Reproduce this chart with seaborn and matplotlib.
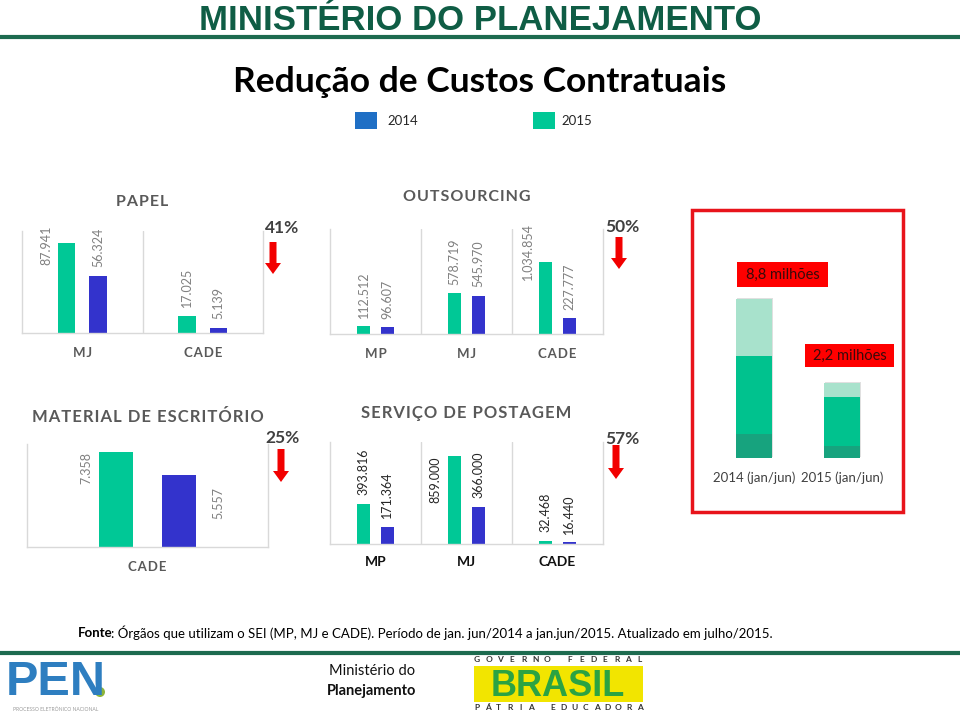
import numpy as np
import pandas as pd
import matplotlib
matplotlib.use("Agg")
import matplotlib.pyplot as plt
import seaborn as sns
from matplotlib.patches import Rectangle, FancyArrow, Circle
from matplotlib import patheffects as pe

# ---------------- data ----------------
legend_labels = ["2014", "2015"]

papel_cats = ["MJ", "CADE"]
papel_verde = [87941, 17025]
papel_azul = [56324, 5139]

outs_cats = ["MP", "MJ", "CADE"]
outs_verde = [112512, 578719, 1034854]
outs_azul = [96607, 545970, 227777]

mat_cats = ["CADE"]
mat_verde = [7358]
mat_azul = [5557]

post_cats = ["MP", "MJ", "CADE"]
post_verde = [393816, 859000, 32468]
post_azul = [171364, 366000, 16440]

reducoes = ["41%", "50%", "25%", "57%"]

periodos = ["2014 (jan/jun)", "2015 (jan/jun)"]
totais = ["8,8 milhões", "2,2 milhões"]
seg_base = [24, 12]
seg_meio = [78, 49]
seg_topo = [57, 14]

# ---------------- style ----------------
TEAL = "#00C896"
BLUE = "#3333CC"
LEG_BLUE = "#1F6FC5"
GRID = "#D9D9D9"
W, H = 960, 712

sns.set_theme(style="white")
plt.rcParams["font.family"] = ["Lato", "DejaVu Sans"]

fig = plt.figure(figsize=(W / 100, H / 100), dpi=100)
bg = fig.add_axes([0, 0, 1, 1])
bg.set_xlim(0, W)
bg.set_ylim(H, 0)
bg.axis("off")


def px_ax(x0, y0, x1, y1):
    ax = fig.add_axes([x0 / W, 1 - y1 / H, (x1 - x0) / W, (y1 - y0) / H])
    ax.set_facecolor("none")
    return ax


def spaced(s):
    return "\u200a".join(s)


def fmt(v):
    return f"{v:,}".replace(",", ".")


def painel(rect, cats, verde, azul, ylim, titulo, title_pad, title_size,
           cat_spaced, cat_color, cat_size, lbl_color, left_mode, tick_pad,
           sides=None):
    ax = px_ax(*rect)
    n = len(cats)
    df = pd.DataFrame({"cat": cats * 2,
                       "valor": list(verde) + list(azul),
                       "serie": ["verde"] * n + ["azul"] * n})
    sns.barplot(data=df, x="cat", y="valor", hue="serie", order=cats,
                hue_order=["verde", "azul"], palette=[TEAL, BLUE],
                width=0.52, gap=0.45, errorbar=None, legend=False,
                saturation=1, linewidth=0, ax=ax)
    ax.set_xlim(-0.5, n - 0.5)
    ax.set_ylim(0, ylim)
    ax.set_yticks([])
    ax.set_xlabel("")
    ax.set_ylabel("")
    ax.spines["top"].set_visible(False)
    for s in ["left", "right", "bottom"]:
        ax.spines[s].set_color(GRID)
        ax.spines[s].set_linewidth(1)
    if n > 1:
        ax.set_xticks(np.arange(0.5, n - 0.5), minor=True)
        ax.grid(axis="x", which="minor", color=GRID, lw=1)
    ax.grid(axis="y", visible=False)
    ax.grid(axis="x", which="major", visible=False)
    ax.set_xticks(range(n))
    labs = [spaced(c) for c in cats] if cat_spaced else cats
    ax.set_xticklabels(labs, fontweight="bold", color=cat_color,
                       fontsize=cat_size)
    ax.tick_params(axis="x", which="both", length=0, pad=tick_pad)
    ax.set_title(spaced(titulo), pad=title_pad, fontsize=title_size,
                 fontweight="bold", color="#595959")
    vals = [verde, azul]
    for i, cont in enumerate(ax.containers):
        for j, bar in enumerate(cont):
            v = vals[i][j]
            x, w, h = bar.get_x(), bar.get_width(), bar.get_height()
            if sides is not None:
                side = sides[i]
            else:
                side = "left" if v / ylim > 0.6 else "top"
            kw = dict(rotation=90, fontsize=9, color=lbl_color,
                      textcoords="offset points", annotation_clip=False)
            if side == "top":
                ax.annotate(fmt(v), (x + w / 2, h), xytext=(0, 6),
                            ha="center", va="bottom", **kw)
            elif side == "left":
                if left_mode == "axes":
                    ax.annotate(fmt(v), (x, ylim), xytext=(-4, 4),
                                ha="right", va="top", **kw)
                else:
                    ax.annotate(fmt(v), (x, h), xytext=(-5, 0),
                                ha="right", va="top", **kw)
            else:
                ax.annotate(fmt(v), (x + w, h), xytext=(12, -8),
                            ha="left", va="top", **kw)
    return ax


painel((22, 231, 263, 333), papel_cats, papel_verde, papel_azul, 100000,
       "PAPEL", 18, 11.5, True, "#595959", 9.5, "#808080", "axes", 10)
painel((330, 229, 603, 334), outs_cats, outs_verde, outs_azul, 1500000,
       "OUTSOURCING", 20, 11.5, True, "#595959", 9.5, "#808080", "axes", 10)
painel((27, 444, 268, 547), mat_cats, mat_verde, mat_azul, 8000,
       "MATERIAL DE ESCRITÓRIO", 16, 12, True, "#595959", 9.5, "#808080",
       "bar", 10, sides=["left", "right"])
painel((330, 442, 603, 544), post_cats, post_verde, post_azul, 1000000,
       "SERVIÇO DE POSTAGEM", 17, 12, False, "#111111", 10, "#262626",
       "bar", 8.5)

# ---------------- stacked totals chart ----------------
bg.add_patch(Rectangle((692, 210), 211, 302, fill=False, ec="#E8141B", lw=2.5))
ax5 = px_ax(710, 290, 886, 458)
c1 = np.array(seg_base)
c2 = c1 + np.array(seg_meio)
c3 = c2 + np.array(seg_topo)
sns.barplot(x=periodos, y=c3, color="#A8E2CC", width=0.41, saturation=1,
            linewidth=0, ax=ax5)
for p in ax5.patches:
    p.set_path_effects([pe.SimplePatchShadow(offset=(1, 1), alpha=0.18,
                                             shadow_rgbFace="#555555"),
                        pe.Normal()])
sns.barplot(x=periodos, y=c2, color="#00C28E", width=0.41, saturation=1,
            linewidth=0, ax=ax5)
sns.barplot(x=periodos, y=c1, color="#17A37E", width=0.41, saturation=1,
            linewidth=0, ax=ax5)
ax5.set_xlim(-0.5, 1.5)
ax5.set_ylim(0, 168)
ax5.set_yticks([])
ax5.set_ylabel("")
for s in ax5.spines.values():
    s.set_visible(False)
ax5.tick_params(axis="x", length=0, pad=10, labelsize=9.5, labelcolor="#404040")

for (x0, y0, w, h), t in zip([(737, 262, 91, 25), (805, 344, 89, 23)], totais):
    bg.add_patch(Rectangle((x0, y0), w, h, color="#FF0000", lw=0))
    bg.text(x0 + w / 2, y0 + h / 2, t, ha="center", va="center",
            fontsize=10.5, color="#3A0A0A")

# ---------------- arrows + percents ----------------
arrows = [(273, 242, 32), (619, 237, 32), (281, 449, 33), (616, 445, 34)]
pct_pos = [(282, 228), (622, 227), (283, 438), (622, 439)]
for (ax_, ay, L), (px, py), t in zip(arrows, pct_pos, reducoes):
    bg.add_patch(FancyArrow(ax_, ay, 0, L, width=7, head_width=16,
                            head_length=11, length_includes_head=True,
                            color="#F20000", lw=0))
    bg.text(px, py, t, ha="center", va="center", fontsize=12.5,
            fontweight="bold", color="#404040")

# ---------------- header ----------------
bg.text(480, 30, "MINISTÉRIO DO PLANEJAMENTO", ha="center", va="baseline",
        fontsize=25, fontweight="bold", color="#0F5D45",
        family=["Liberation Sans", "DejaVu Sans"])
bg.plot([0, 960], [37, 37], color="#1D6B4F", lw=3, solid_capstyle="butt")
bg.text(480, 92, "Redução de Custos Contratuais", ha="center", va="baseline",
        fontsize=25.5, fontweight="bold", color="#000000")

leg_cols = [LEG_BLUE, TEAL]
for (sx, tx), c, lab in zip([(355, 387), (533, 561)], leg_cols, legend_labels):
    bg.add_patch(Rectangle((sx, 112), 22, 17, color=c, lw=0))
    bg.text(tx, 121, lab, ha="left", va="center", fontsize=9.5, color="#262626")

# ---------------- footer ----------------
t1 = bg.text(78, 633, "Fonte", ha="left", va="center", fontsize=9.5,
             fontweight="bold", color="#000000")
bg.annotate(": Órgãos que utilizam o SEI (MP, MJ e CADE). Período de jan. "
            "jun/2014 a jan.jun/2015. Atualizado em julho/2015.",
            xy=(1, 0.5), xycoords=t1, xytext=(-1.5, 0),
            textcoords="offset points", ha="left", va="center",
            fontsize=9.5, color="#000000")
bg.plot([0, 960], [653, 653], color="#1D6B4F", lw=3, solid_capstyle="butt")

# PEN logo
bg.text(6, 695, "PEN", ha="left", va="baseline", fontsize=35,
        fontweight="bold", color="#2E7EC0",
        family=["Liberation Sans", "DejaVu Sans"])
bg.add_patch(Circle((100, 692), 5, color="#8CB43A", lw=0))
bg.text(56, 709, "PROCESSO ELETRÔNICO NACIONAL", ha="center", va="center",
        fontsize=3.6, color="#9A9A9A")

bg.text(372, 671, "Ministério do", ha="center", va="center", fontsize=10.5,
        color="#111111")
bg.text(372, 691, "Planejamento", ha="center", va="center", fontsize=10.5,
        fontweight="bold", color="#111111")

# Brasil logo
for ch, x in zip("GOVERNO FEDERAL", np.linspace(477, 640, 15)):
    bg.text(x, 659, ch, ha="center", va="center", fontsize=6,
            fontweight="bold", color="#333333")
bg.add_patch(Rectangle((474, 666), 169, 36, color="#F2E500", lw=0))
bg.text(558, 696, "BRASIL", ha="center", va="baseline", fontsize=26,
        fontweight="bold", color="#2BA343",
        family=["Liberation Sans", "DejaVu Sans"])
for ch, x in zip("PÁTRIA EDUCADORA", np.linspace(477, 640, 16)):
    bg.text(x, 707.5, ch, ha="center", va="center", fontsize=6,
            fontweight="bold", color="#333333")

fig.savefig("out.png", dpi=100)
